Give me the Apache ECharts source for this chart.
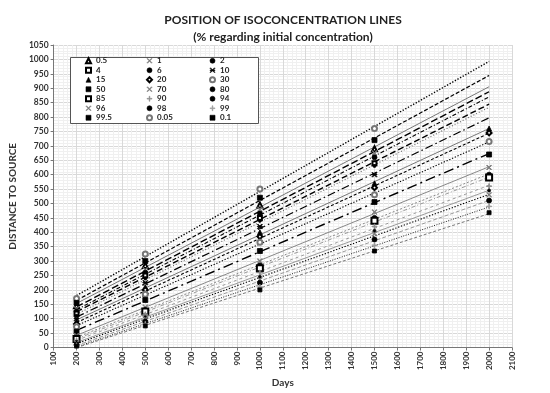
<!DOCTYPE html>
<html><head><meta charset="utf-8">
<script src="https://cdn.jsdelivr.net/npm/echarts@6/dist/echarts.min.js"></script>
<style>html,body{margin:0;padding:0;background:#fff}#c{width:550px;height:393px}</style>
</head><body><div id="c"></div>
<script>
var days = [200, 500, 1000, 1500, 2000];
var names = ['0.5','1','2','4','6','10','15','20','30','50','70','80','85','90','94','96','98','99','99.5','0.05','0.1'];
var v0_05 = [170, 325, 550, 760, null];
var v0_1  = [155, 300, 520, 720, null];
var v0_5  = [145, 285, 495, 690, null];
var v1    = [135, 270, 480, 675, null];
var v2    = [125, 260, 465, 660, null];
var v4    = [118, 250, 450, 640, null];
var v6    = [110, 240, 440, 630, null];
var v10   = [100, 225, 420, 600, null];
var v15   = [90, 210, 400, 570, 760];
var v20   = [82, 200, 385, 555, 745];
var v30   = [72, 185, 365, 530, 715];
var v50   = [55, 165, 335, 505, 670];
var v70   = [42, 140, 300, 470, 625];
var v80   = [35, 130, 285, 450, 600];
var v85   = [30, 125, 275, 440, 590];
var v90   = [25, 115, 260, 420, 560];
var v94   = [20, 105, 245, 405, 545];
var v96   = [15, 100, 235, 395, 530];
var v98   = [10, 90, 225, 375, 510];
var v99   = [7, 82, 210, 355, 490];
var v99_5 = [5, 75, 200, 335, 468];
var values = {'0.05':v0_05,'0.1':v0_1,'0.5':v0_5,'1':v1,'2':v2,'4':v4,'6':v6,'10':v10,'15':v15,'20':v20,'30':v30,'50':v50,'70':v70,'80':v80,'85':v85,'90':v90,'94':v94,'96':v96,'98':v98,'99':v99,'99.5':v99_5};

var XS = 'path://M1,0L5,4L9,0L10,1L6,5L10,9L9,10L5,6L1,10L0,9L4,5L0,1Z';
var PLUS = 'path://M4.3,0H5.7V4.3H10V5.7H5.7V10H4.3V5.7H0V4.3H4.3Z';
var STAR = 'path://M1,0L5,4L9,0L10,1L6,5L10,9L9,10L5,6L1,10L0,9L4,5L0,1ZM0,4.4H10V5.6H0Z';
var mk = {
 '0.5':['emptyTriangle',5,'#000'],'1':[XS,5,'#777'],'2':['circle',5,'#000'],
 '4':['emptyRect',4,'#000'],'6':['circle',3,'#000'],'10':[STAR,5,'#000'],
 '15':['triangle',5,'#000'],'20':['emptyDiamond',5,'#000'],'30':['emptyCircle',5,'#777'],
 '50':['rect',5,'#000'],'70':[XS,5,'#777'],'80':['circle',5,'#000'],
 '85':['emptyRect',6,'#000'],'90':[PLUS,5,'#888'],'94':['circle',3,'#000'],
 '96':[XS,5,'#777'],'98':['circle',5,'#000'],'99':[PLUS,5,'#999'],
 '99.5':['rect',4,'#000'],'0.05':['emptyCircle',5,'#777'],'0.1':['rect',5,'#000']
};
var ls = {
 '0.05':[[1.3,1.7],'#000',1.4],'0.1':[[4,2],'#000',1.2],'0.5':['solid','#777',1],
 '1':[[7,3],'#000',1.4],'2':[[4,2,1,2],'#000',1.1],'4':[[6,3],'#000',1.4],
 '6':[[1,2],'#666',1.1],'10':[[8,3,1.5,3],'#000',1.2],'15':['solid','#777',1],
 '20':[[3,2],'#000',1.1],'30':[[1.3,1.7],'#000',1.1],'50':[[10,4,2,4],'#000',1.4],
 '70':['solid','#888',1],'80':[[2,2],'#888',1],'85':[[4,2,1,2],'#999',1],
 '90':[[3,3],'#999',1],'94':['solid','#999',1],'96':[[1.3,1.7],'#000',1.1],
 '98':[[4,2],'#999',1],'99':[[1,1.5],'#222',1],'99.5':[[3,2],'#777',1]
};

function fit(ys){
  var xs=[],yy=[];
  for(var i=0;i<days.length;i++){ if(ys[i]!=null){xs.push(days[i]);yy.push(ys[i]);} }
  var n=xs.length,mx=0,my=0;
  for(i=0;i<n;i++){mx+=xs[i];my+=yy[i];} mx/=n;my/=n;
  var sxx=0,sxy=0;
  for(i=0;i<n;i++){sxx+=(xs[i]-mx)*(xs[i]-mx);sxy+=(xs[i]-mx)*(yy[i]-my);}
  var b=sxy/sxx,a=my-b*mx;
  return [[200,a+b*200],[2000,a+b*2000]];
}

var series=[];
names.forEach(function(n){
  var s=ls[n];
  series.push({type:'line',name:'t'+n,data:fit(values[n]),showSymbol:false,symbol:'none',
    lineStyle:{type:s[0],color:s[1],width:s[2],cap:'butt'},silent:true,z:2,animation:false});
});
names.forEach(function(n){
  var m=mk[n];
  series.push({type:'scatter',name:n,symbol:m[0],symbolSize:m[1],
    itemStyle:{color:m[2],borderColor:m[2],borderWidth:0.8,opacity:1},
    data:days.map(function(d,i){return values[n][i]==null?null:[d,values[n][i]];}).filter(function(p){return p;}),
    z:3,animation:false});
});

var F='Lato, "Open Sans", sans-serif';
var legends=[0,1,2].map(function(c){
  var col=names.filter(function(n,i){return i%3===c;}).map(function(n){return {name:n,itemStyle:{borderWidth:0.6}};});
  return {data:col,orient:'vertical',left:[85,146,209][c],top:56.5,itemWidth:5,itemHeight:5,itemGap:1,padding:0,z:20,
    textStyle:{fontFamily:F,fontSize:8,fontWeight:'bold',color:'#222',lineHeight:8.5}};
});

var chart=echarts.init(document.getElementById('c'),null,{renderer:'canvas'});
chart.setOption({
  animation:false,
  title:{text:'POSITION OF ISOCONCENTRATION LINES\n(% regarding initial concentration)',left:278,textAlign:'center',top:7,
    textStyle:{fontFamily:F,fontSize:12,fontWeight:'bold',color:'#222',lineHeight:17}},
  graphic:{z:5,elements:[{type:'rect',left:70,top:57,shape:{width:188,height:66},z:5,
    style:{fill:'#fff',stroke:'#555',lineWidth:1}}]},
  legend:legends,
  grid:{left:44,right:38,top:45,bottom:44,containLabel:false},
  xAxis:{type:'value',min:100,max:2100,interval:100,name:'Days',nameLocation:'middle',nameGap:30,
    nameTextStyle:{fontFamily:F,fontSize:10,fontWeight:'bold',color:'#333'},
    axisLine:{show:true,lineStyle:{color:'#777'}},axisTick:{show:true,length:3,lineStyle:{color:'#777'}},
    axisLabel:{rotate:90,fontFamily:F,fontSize:8,fontWeight:'bold',color:'#333',margin:4,formatter:function(v){return String(v);}},
    splitLine:{show:true,lineStyle:{color:'#d9d9d9',width:1}},
    minorTick:{show:false,splitNumber:5},minorSplitLine:{show:true,lineStyle:{color:'#f0f0f0'}}},
  yAxis:{type:'value',min:0,max:1050,interval:50,name:'DISTANCE TO SOURCE',nameLocation:'middle',nameGap:25,
    nameTextStyle:{fontFamily:F,fontSize:10,fontWeight:'bold',color:'#333'},
    axisLine:{show:true,lineStyle:{color:'#777'}},axisTick:{show:true,length:3,lineStyle:{color:'#777'}},
    axisLabel:{fontFamily:F,fontSize:8.5,fontWeight:'bold',color:'#333',margin:5,formatter:function(v){return String(v);}},
    splitLine:{show:true,lineStyle:{color:'#d9d9d9',width:1}},
    minorTick:{show:false,splitNumber:5},minorSplitLine:{show:true,lineStyle:{color:'#f0f0f0'}}},
  series:series
});
</script></body></html>
